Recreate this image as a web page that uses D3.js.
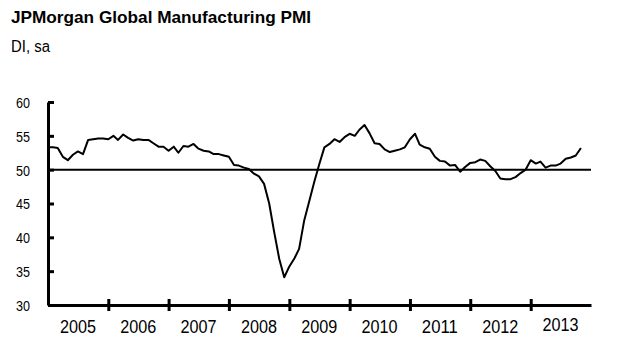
<!DOCTYPE html>
<html lang="en">
<head>
<meta charset="utf-8"/>
<title>JPMorgan Global Manufacturing PMI</title>
<script src="https://d3js.org/d3.v7.min.js"></script>
<style>
    body { margin: 0; background: #fff; }
    text { font-family: "Liberation Sans", Arial, sans-serif; fill: #000; }
</style>
</head>
<body>
<script>
// monthly readings, Jan 2005 onwards
var startYear = 2005;
var pmi2005 = [53.3, 53.3, 53.2, 51.9, 51.4, 52.2, 52.7, 52.3, 54.4, 54.5, 54.6, 54.6];
var pmi2006 = [54.5, 55.0, 54.4, 55.2, 54.7, 54.3, 54.5, 54.4, 54.4, 53.9, 53.4, 53.4];
var pmi2007 = [52.8, 53.4, 52.5, 53.5, 53.4, 53.8, 53.1, 52.8, 52.7, 52.3, 52.3, 52.1];
var pmi2008 = [51.9, 50.7, 50.6, 50.3, 50.1, 49.4, 49.0, 47.9, 45.0, 40.8, 36.8, 34.1];
var pmi2009 = [35.7, 36.9, 38.3, 42.5, 45.3, 48.2, 50.8, 53.3, 53.8, 54.5, 54.1, 54.8];
var pmi2010 = [55.3, 55.0, 55.9, 56.6, 55.4, 53.9, 53.8, 53.0, 52.6, 52.8, 53.0, 53.3];
var pmi2011 = [54.5, 55.3, 53.7, 53.3, 53.1, 51.9, 51.3, 51.2, 50.6, 50.7, 49.7, 50.4];
var pmi2012 = [51.0, 51.1, 51.5, 51.3, 50.5, 49.8, 48.7, 48.6, 48.6, 48.9, 49.5, 50.0];
var pmi2013 = [51.4, 50.9, 51.2, 50.3, 50.6, 50.6, 50.9, 51.6, 51.8, 52.1, 53.2];

var yearLabels = ["2005", "2006", "2007", "2008", "2009", "2010", "2011", "2012", "2013"];
var yTicks = [30, 35, 40, 45, 50, 55, 60];
var refLevel = 50;

var values = [].concat(pmi2005, pmi2006, pmi2007, pmi2008, pmi2009,
                       pmi2010, pmi2011, pmi2012, pmi2013);
var data = values.map(function(v, i) {
    return {date: new Date(startYear, i, 1), value: v};
});

var w = 619;
var h = 353;
var plotLeft = 48, plotRight = 591, plotTop = 102, plotBottom = 305;

var svg = d3.select("body")
            .append("svg")
            .attr("width", w)
            .attr("height", h);

// title and unit
svg.append("text")
   .attr("x", 11).attr("y", 23)
   .attr("font-size", 17).attr("font-weight", "bold")
   .attr("textLength", 300).attr("lengthAdjust", "spacingAndGlyphs")
   .text("JPMorgan Global Manufacturing PMI");

svg.append("text")
   .attr("x", 11).attr("y", 52)
   .attr("font-size", 16)
   .attr("textLength", 39).attr("lengthAdjust", "spacingAndGlyphs")
   .text("DI, sa");

// scales
var x = d3.scaleTime()
          .domain([new Date(startYear, 0, 1), new Date(startYear + yearLabels.length, 0, 1)])
          .range([plotLeft, plotRight]);

var y = d3.scaleLinear()
          .domain([30, 60])
          .range([plotBottom, plotTop]);

// reference line at 50
svg.append("line")
   .attr("x1", plotLeft).attr("x2", plotRight)
   .attr("y1", y(refLevel)).attr("y2", y(refLevel))
   .attr("stroke", "#000").attr("stroke-width", 2);

// y axis, ticks point inward
var yAxis = d3.axisLeft(y)
              .tickValues(yTicks)
              .tickSizeInner(-6)
              .tickSizeOuter(0)
              .tickPadding(18);

var gy = svg.append("g")
            .attr("transform", "translate(" + plotLeft + ",0)")
            .call(yAxis);
gy.select(".domain").attr("stroke", "#000").attr("stroke-width", 3);
gy.selectAll(".tick line").attr("stroke", "#000").attr("stroke-width", 3);
gy.selectAll(".tick text")
  .attr("font-family", "Liberation Sans, Arial, sans-serif")
  .attr("font-size", 15)
  .attr("dy", "0.36em")
  .attr("textLength", 14).attr("lengthAdjust", "spacingAndGlyphs");

// x axis, ticks at year boundaries crossing the axis
var yearStarts = yearLabels.slice(1).map(function(s) { return new Date(+s, 0, 1); });
var xAxis = d3.axisBottom(x)
              .tickValues(yearStarts)
              .tickSizeInner(6)
              .tickSizeOuter(0)
              .tickFormat("");

var gx = svg.append("g")
            .attr("transform", "translate(0," + plotBottom + ")")
            .call(xAxis);
gx.select(".domain").attr("stroke", "#000").attr("stroke-width", 3);
gx.selectAll(".tick line")
  .attr("y1", -6)
  .attr("stroke", "#000").attr("stroke-width", 3);

// year labels centred in each year
svg.selectAll("text.year")
   .data(yearLabels)
   .enter()
   .append("text")
   .attr("class", "year")
   .attr("x", function(d) { return x(new Date(+d, 6, 1)); })
   .attr("y", function(d, i) { return i == yearLabels.length - 1 ? 331 : 333; })
   .attr("text-anchor", "middle")
   .attr("font-size", 18)
   .attr("textLength", 36).attr("lengthAdjust", "spacingAndGlyphs")
   .text(function(d) { return d; });

// pmi line
var line = d3.line()
             .x(function(d) { return x(d.date); })
             .y(function(d) { return y(d.value); });

svg.append("path")
   .datum(data)
   .attr("fill", "none")
   .attr("stroke", "#000")
   .attr("stroke-width", 2)
   .attr("stroke-linejoin", "round")
   .attr("d", line);
</script>
</body>
</html>
